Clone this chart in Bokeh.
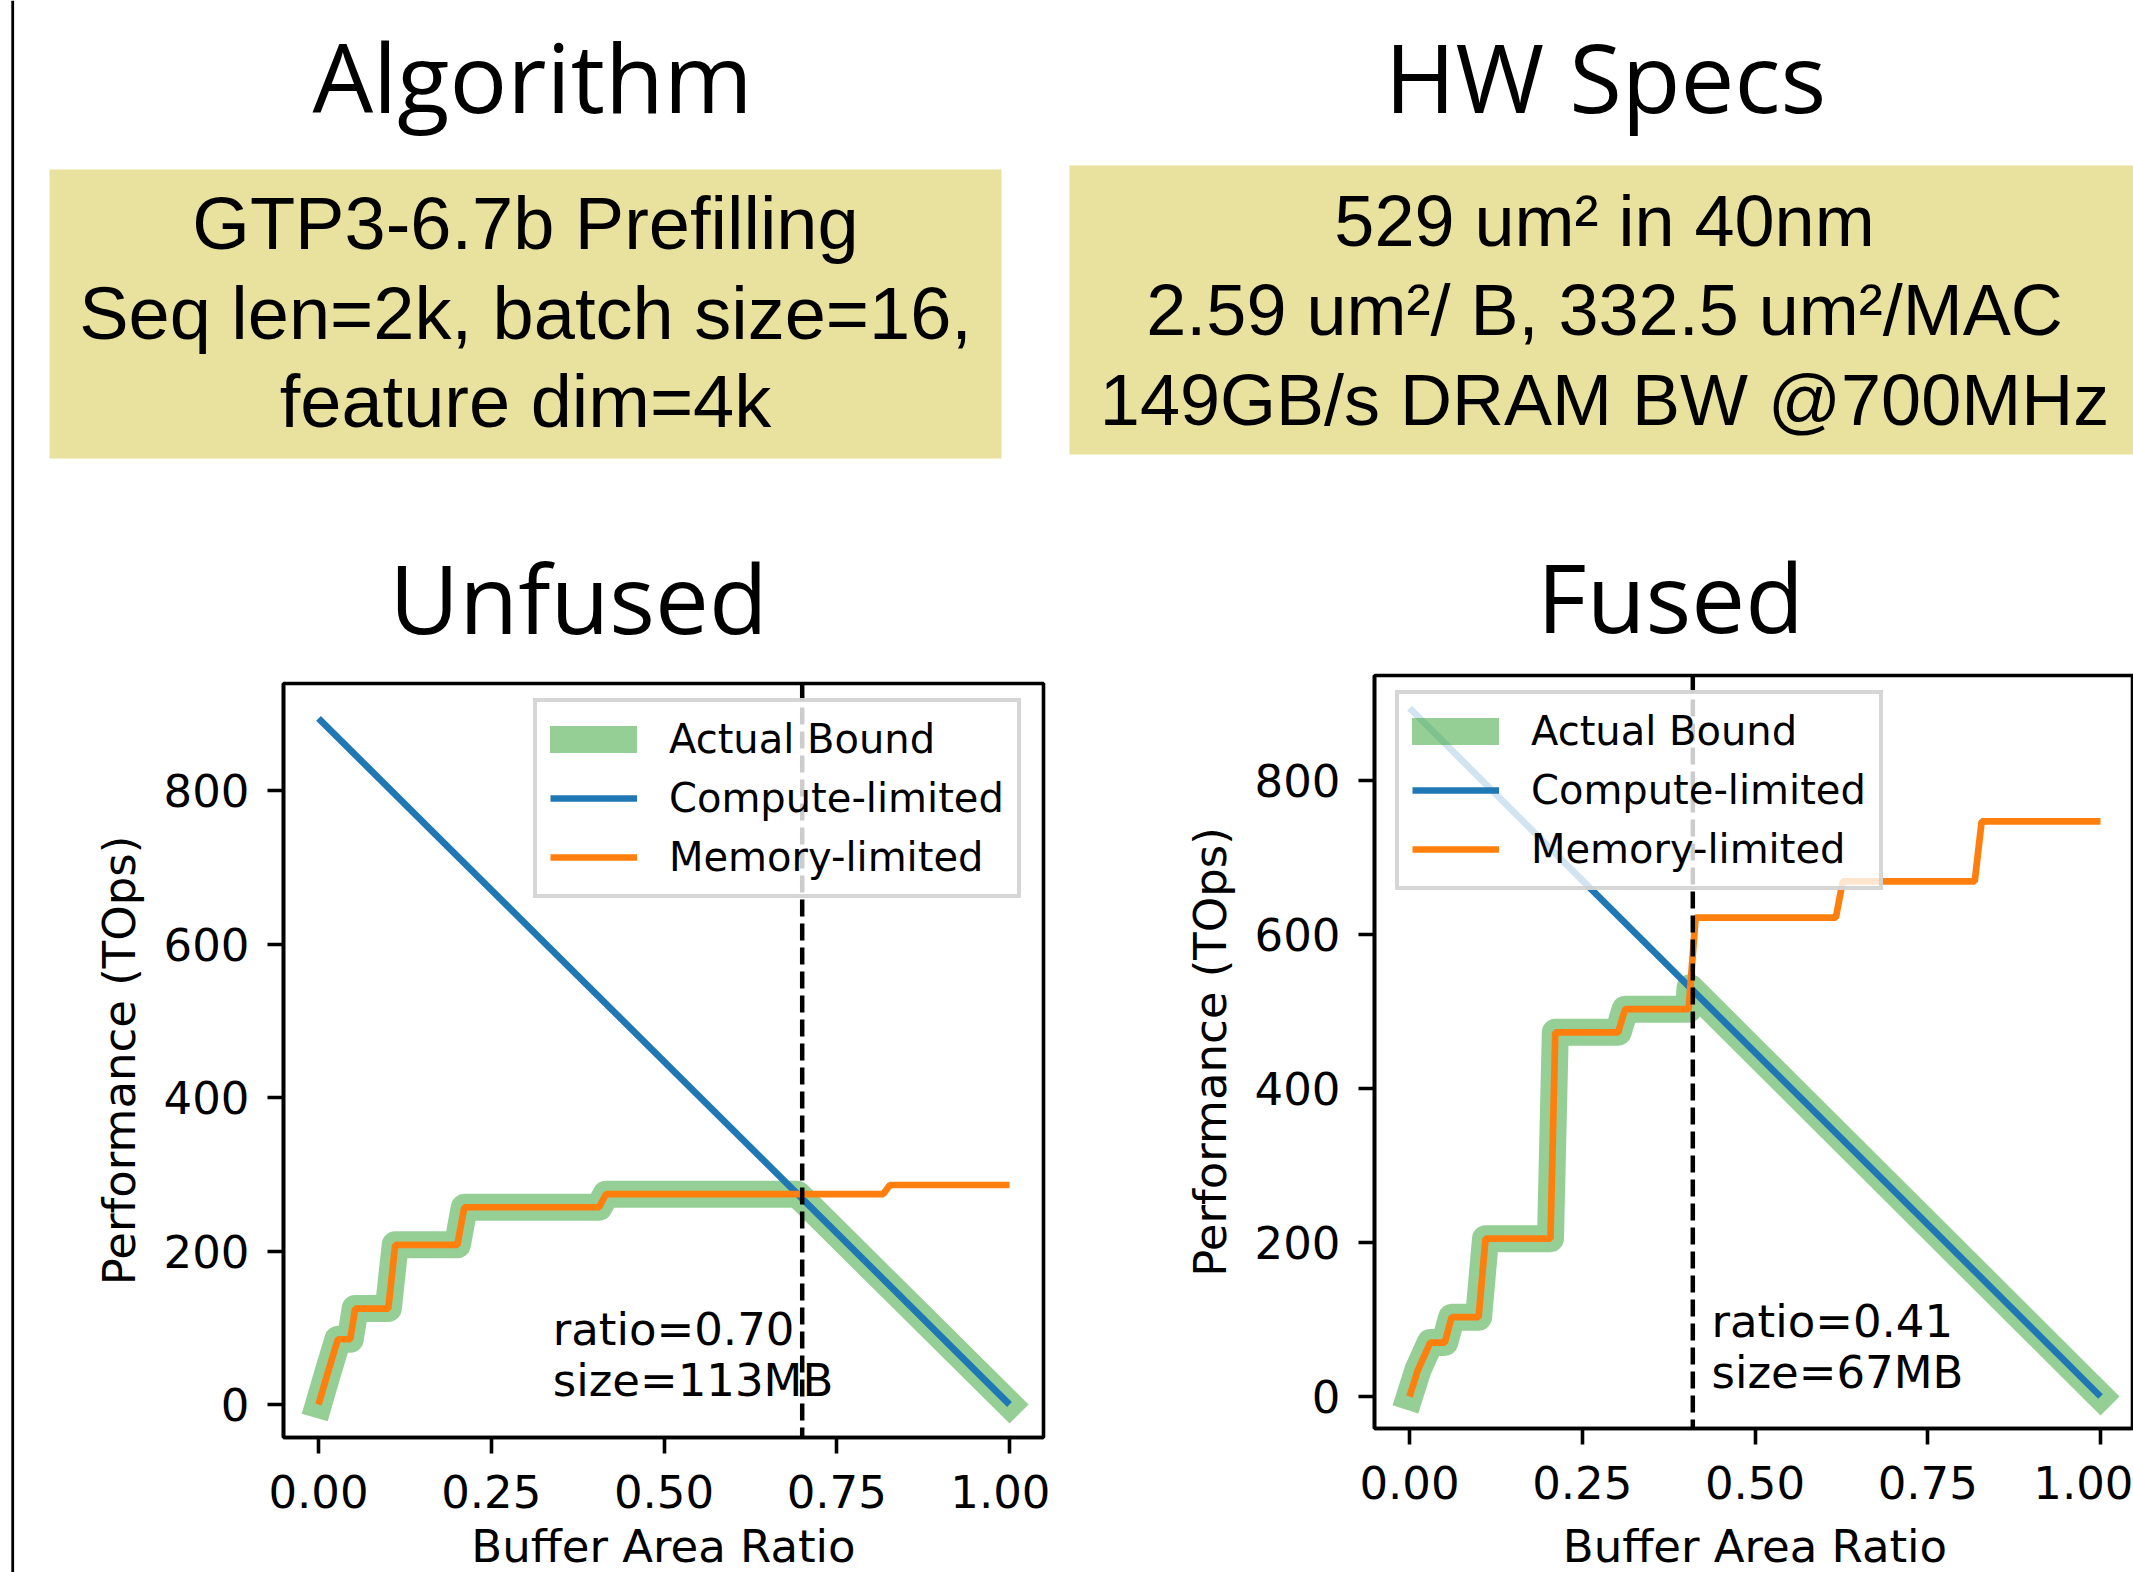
import math
from bokeh.plotting import figure
from bokeh.models import (Range1d, FixedTicker, Legend, LegendItem, Span,
                          NumeralTickFormatter)
from bokeh.layouts import row, column
from bokeh.core.properties import value
from bokeh.embed import file_html
from bokeh.resources import INLINE

# ---------------- data ----------------
header_titles = ["Algorithm", "HW Specs"]
algo_lines = ["GTP3-6.7b Prefilling", "Seq len=2k, batch size=16,", "feature dim=4k"]
hw_lines = ["529 um\u00b2 in 40nm", "2.59 um\u00b2/ B, 332.5 um\u00b2/MAC", "149GB/s DRAM BW @700MHz"]
panel_titles = ["Unfused", "Fused"]

x_ticks = [0.0, 0.25, 0.5, 0.75, 1.0]
y_ticks = [0, 200, 400, 600, 800]

compute_x = [0.0, 1.0]
compute_y = [894, 0]

unfused_mem_x = [0.0, 0.013, 0.028, 0.046, 0.053, 0.101, 0.111, 0.201, 0.211, 0.406, 0.416, 0.817, 0.827, 1.0]
unfused_mem_y = [0, 40, 85, 85, 125, 125, 208, 208, 257, 257, 274, 274, 286, 286]
unfused_bound_x = [0.0, 0.013, 0.028, 0.046, 0.053, 0.101, 0.111, 0.201, 0.211, 0.406, 0.416, 0.693, 1.0]
unfused_bound_y = [0, 40, 85, 85, 125, 125, 208, 208, 257, 257, 274, 274, 0]
unfused_ratio = 0.70
unfused_size = "113MB"

fused_mem_x = [0.0, 0.012, 0.03, 0.051, 0.061, 0.100, 0.110, 0.204, 0.211, 0.302, 0.312, 0.404, 0.414, 0.617, 0.627, 0.818, 0.828, 1.0]
fused_mem_y = [0, 34, 70, 70, 103, 103, 205, 205, 473, 473, 503, 503, 622, 622, 669, 669, 747, 747]
fused_bound_x = [0.0, 0.012, 0.03, 0.051, 0.061, 0.100, 0.110, 0.204, 0.211, 0.302, 0.312, 0.404, 0.406, 1.0]
fused_bound_y = [0, 34, 70, 70, 103, 103, 205, 205, 473, 473, 503, 503, 531, 0]
fused_ratio = 0.41
fused_size = "67MB"

legend_labels = ["Actual Bound", "Compute-limited", "Memory-limited"]
x_label = "Buffer Area Ratio"
y_label = "Performance (TOps)"

BLUE = "#1f77b4"
ORANGE = "#ff7f0e"
GREEN = "#2ca02c"
BOX = "#e8e29e"
AX_FONT = "DejaVu Sans"

# empirical baseline corrections (px) for SVG text placement
OFF_OPEN = 37
OFF_LIB74 = 27
OFF_LIB72 = 26
OFF_DV45 = 14


def blank_fig(width, height, xr, yr):
    f = figure(width=width, height=height, x_range=Range1d(*xr), y_range=Range1d(*yr),
               min_border=0, x_axis_location=None, y_axis_location=None,
               output_backend="svg", toolbar_location=None, title=None)
    f.outline_line_color = None
    f.xgrid.visible = False
    f.ygrid.visible = False
    return f


def txt(f, xs, ys, texts, font, size, align="center"):
    f.text(x=xs, y=ys, text=texts, text_font=value(font), text_font_size=value(size),
           text_align=align, text_baseline="alphabetic", text_color="black")


# ---------------- left border line ----------------
line_fig = blank_fig(16, 1572, (0, 16), (0, 1))
line_fig.quad(left=[10.8], right=[13.6], bottom=[0], top=[1], fill_color="black", line_color=None)

# ---------------- headers (coordinates = page pixels) ----------------
HDR_L_H = 670
HDR_R_H = 662
hdr_l = blank_fig(1034, HDR_L_H, (16, 1050), (HDR_L_H, 0))
hdr_l.quad(left=[49], right=[1001], top=[169], bottom=[458], fill_color=BOX, line_color=None)
txt(hdr_l, [532], [112 - OFF_OPEN], header_titles[:1], "Open Sans", "96px")
txt(hdr_l, [525] * 3, [250 - OFF_LIB74, 340 - OFF_LIB74, 428 - OFF_LIB74], algo_lines,
    "Liberation Sans", "74px")
txt(hdr_l, [578], [633 - OFF_OPEN], panel_titles[:1], "Open Sans", "96px")

hdr_r = blank_fig(1083, HDR_R_H, (1050, 2133), (HDR_R_H, 0))
hdr_r.quad(left=[1069], right=[2133], top=[165], bottom=[454], fill_color=BOX, line_color=None)
txt(hdr_r, [1605], [112 - OFF_OPEN], header_titles[1:], "Open Sans", "96px")
txt(hdr_r, [1604] * 3, [246 - OFF_LIB72, 335 - OFF_LIB72, 425 - OFF_LIB72], hw_lines,
    "Liberation Sans", "72px")
txt(hdr_r, [1670], [632 - OFF_OPEN], panel_titles[1:], "Open Sans", "96px")


def make_panel(width, height, mb_left, mb_right, mb_top, mb_bottom, xr, yr, px_per_unit,
               mem_x, mem_y, bound_x, bound_y, ratio, size, text_x, legend_loc):
    p = figure(width=width, height=height, x_range=Range1d(*xr), y_range=Range1d(*yr),
               min_border_left=mb_left, min_border_right=mb_right,
               min_border_top=mb_top, min_border_bottom=mb_bottom,
               output_backend="svg", toolbar_location=None, title=None)
    p.xgrid.visible = False
    p.ygrid.visible = False
    p.outline_line_color = "black"
    p.outline_line_width = 3.6
    p.outline_line_alpha = 1.0
    p.xaxis.ticker = FixedTicker(ticks=x_ticks)
    p.yaxis.ticker = FixedTicker(ticks=y_ticks)
    p.xaxis.formatter = NumeralTickFormatter(format="0.00")
    for ax in (p.xaxis[0], p.yaxis[0]):
        ax.axis_line_width = 3.6
        ax.axis_line_color = "black"
        ax.major_tick_line_width = 3.6
        ax.major_tick_line_color = "black"
        ax.major_tick_out = 16
        ax.major_tick_in = 0
        ax.minor_tick_out = 0
        ax.minor_tick_in = 0
        ax.major_label_text_font = AX_FONT
        ax.major_label_text_font_size = "45px"
        ax.major_label_text_color = "black"
    p.xaxis.major_label_standoff = 21
    p.yaxis.major_label_standoff = 18
    p.yaxis.axis_label = y_label
    p.yaxis.axis_label_text_font = AX_FONT
    p.yaxis.axis_label_text_font_size = "45px"
    p.yaxis.axis_label_text_font_style = "normal"
    p.yaxis.axis_label_text_color = "black"
    p.yaxis.axis_label_standoff = 15

    r_bound = p.line(bound_x, bound_y, line_color=GREEN, line_alpha=0.5, line_width=27,
                     line_join="round", line_cap="square")
    r_comp = p.line(compute_x, compute_y, line_color=BLUE, line_width=6.7)
    r_mem = p.line(mem_x, mem_y, line_color=ORANGE, line_width=6.7)

    p.add_layout(Span(location=ratio, dimension="height", line_color="black",
                      line_width=4.5, line_dash="17 7"))

    dy = OFF_DV45 / px_per_unit
    p.text(x=[text_x, text_x], y=[79 + dy, 13 + dy], text=["ratio=%.2f" % ratio, "size=" + size],
           text_font=value(AX_FONT), text_font_size=value("45px"), text_align="left",
           text_baseline="alphabetic", text_color="black")

    legend = Legend(items=[LegendItem(label=legend_labels[0], renderers=[r_bound]),
                           LegendItem(label=legend_labels[1], renderers=[r_comp]),
                           LegendItem(label=legend_labels[2], renderers=[r_mem])],
                    location=legend_loc, orientation="vertical",
                    label_text_font=AX_FONT, label_text_font_size="40px",
                    label_text_color="black",
                    glyph_width=87, glyph_height=48, label_height=48, spacing=11,
                    padding=13, label_standoff=32, margin=0,
                    border_line_color="#cccccc", border_line_width=4, border_line_alpha=0.8,
                    background_fill_color="white", background_fill_alpha=0.8)
    p.add_layout(legend)
    return p


# left panel: frame page x 283..1043, y 683..1437
L_BOTTOM = 83
left = make_panel(1034, (683 - HDR_L_H) + 754 + L_BOTTOM, 267, 7, 683 - HDR_L_H, L_BOTTOM,
                  (-35 / 691, 725 / 691), (-33 / 0.7675, 721 / 0.7675), 0.7675,
                  unfused_mem_x, unfused_mem_y, unfused_bound_x, unfused_bound_y,
                  unfused_ratio, unfused_size, 0.339, (250, 539))
# right panel: frame page x 1374..2132, y 675..1428
right = make_panel(1083, (675 - HDR_R_H) + 753 + 92, 324, 1, 675 - HDR_R_H, 92,
                   (-35 / 691, 723 / 691), (-32 / 0.77, 721 / 0.77), 0.77,
                   fused_mem_x, fused_mem_y, fused_bound_x, fused_bound_y,
                   fused_ratio, fused_size, 0.437, (21, 538))

# footers holding the x-axis labels (coordinates = page pixels)
FTR_L_TOP = 1437 + L_BOTTOM
ftr_l = blank_fig(1034, 1572 - FTR_L_TOP, (16, 1050), (1572, FTR_L_TOP))
txt(ftr_l, [663], [1560 - OFF_DV45], [x_label], AX_FONT, "45px")
ftr_r = blank_fig(1083, 1572 - 1520, (1050, 2133), (1572, 1520))
txt(ftr_r, [1754.5], [1560 - OFF_DV45], [x_label], AX_FONT, "45px")

# each plot wrapped in its own row so that sibling figures keep their own borders
col_l = column(row(hdr_l), row(left), row(ftr_l))
col_r = column(row(hdr_r), row(right), row(ftr_r))
layout = row(line_fig, col_l, col_r)
open("out.html", "w").write(file_html(layout, INLINE))
